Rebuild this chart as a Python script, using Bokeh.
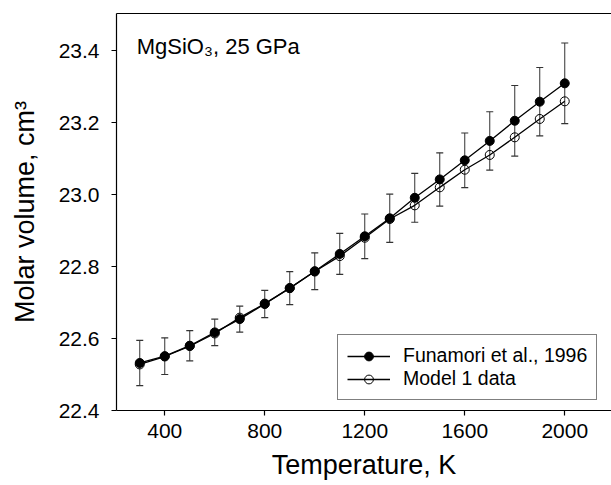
from bokeh.plotting import figure
from bokeh.models import (ColumnDataSource, Whisker, TeeHead, Label, Legend, LegendItem,
                          LinearAxis, FixedTicker, Range1d, PrintfTickFormatter)
from bokeh.embed import file_html
from bokeh.resources import INLINE

temperature = [300, 400, 500, 600, 700, 800, 900, 1000, 1100, 1200,
               1300, 1400, 1500, 1600, 1700, 1800, 1900, 2000]
funamori = [22.532, 22.551, 22.580, 22.617, 22.654, 22.696, 22.740, 22.787, 22.835,
            22.884, 22.934, 22.991, 23.042, 23.095, 23.149, 23.205, 23.258, 23.309]
model1 = [22.528, 22.550, 22.579, 22.614, 22.658, 22.697, 22.740, 22.786, 22.829,
          22.880, 22.932, 22.970, 23.020, 23.069, 23.110, 23.159, 23.210, 23.259]
funamori_err = [0.063, 0.051, 0.042, 0.037, 0.036, 0.038, 0.046, 0.051, 0.057,
                0.062, 0.067, 0.068, 0.074, 0.076, 0.081, 0.098, 0.095, 0.112]
x_ticks = [400, 800, 1200, 1600, 2000]
y_ticks = [22.4, 22.6, 22.8, 23.0, 23.2, 23.4]

FONT = "Liberation Sans"

src = ColumnDataSource(dict(
    t=temperature, f=funamori, m=model1,
    lo=[v - e for v, e in zip(funamori, funamori_err)],
    hi=[v + e for v, e in zip(funamori, funamori_err)],
))

p = figure(width=611, height=485, x_range=Range1d(207, 2187), y_range=Range1d(22.4, 23.503),
           output_backend="svg", toolbar_location=None,
           min_border_left=116, min_border_right=0, min_border_top=13, min_border_bottom=75)
p.xgrid.visible = False
p.ygrid.visible = False
p.outline_line_color = None
p.background_fill_color = "white"

for ax in (p.xaxis[0], p.yaxis[0]):
    ax.axis_line_color = "black"
    ax.axis_line_width = 1.2
    ax.major_tick_line_color = "black"
    ax.major_tick_line_width = 1.2
    ax.major_tick_out = 5
    ax.major_tick_in = 0
    ax.minor_tick_line_color = None
    ax.major_label_text_font = FONT
    ax.major_label_text_font_size = "21px"
    ax.major_label_text_color = "black"
    ax.axis_label_text_font = FONT
    ax.axis_label_text_font_size = "27px"
    ax.axis_label_text_font_style = "normal"
    ax.axis_label_text_color = "black"

p.xaxis.ticker = FixedTicker(ticks=x_ticks)
p.yaxis.ticker = FixedTicker(ticks=y_ticks)
p.yaxis.formatter = PrintfTickFormatter(format="%.1f")
p.xaxis.axis_label = "Temperature, K"
p.yaxis.axis_label = "Molar volume, cm³"
p.xaxis.major_label_standoff = 8
p.xaxis.axis_label_standoff = 9
p.yaxis.major_label_standoff = 12
p.yaxis.axis_label_standoff = 16

top = LinearAxis(ticker=FixedTicker(ticks=[]), major_tick_out=0, minor_tick_out=0,
                 major_tick_in=0, minor_tick_in=0, major_label_standoff=0,
                 axis_line_color="black", axis_line_width=1.2)
p.add_layout(top, "above")

whisk = Whisker(source=src, base="t", lower="lo", upper="hi",
                line_color="#333333", line_width=1,
                upper_head=TeeHead(size=7, line_color="#333333", line_width=1.2),
                lower_head=TeeHead(size=7, line_color="#333333", line_width=1.2))
p.add_layout(whisk)

l2 = p.line("t", "m", source=src, line_color="black", line_width=1.3)
s2 = p.scatter("t", "m", source=src, size=9, fill_color=None, line_color="black", line_width=1)
l1 = p.line("t", "f", source=src, line_color="black", line_width=1.3)
s1 = p.scatter("t", "f", source=src, size=9, fill_color="black", line_color="black")

legend = Legend(items=[LegendItem(label="Funamori et al., 1996", renderers=[l1, s1]),
                       LegendItem(label="Model 1 data", renderers=[l2, s2])],
                location=(221, 10), label_text_font=FONT, label_text_font_size="19.5px",
                label_text_color="black", glyph_width=43, glyph_height=22, label_height=22,
                label_standoff=13, padding=9, spacing=0, margin=0,
                border_line_color="black", border_line_width=1,
                background_fill_color="white", background_fill_alpha=1)
p.add_layout(legend)

p.add_layout(Label(x=288, y=23.412, text="MgSiO₃, 25 GPa", text_font=FONT,
                   text_font_size="22px", text_baseline="alphabetic", text_color="black"))

open("out.html", "w").write(file_html(p, INLINE))
